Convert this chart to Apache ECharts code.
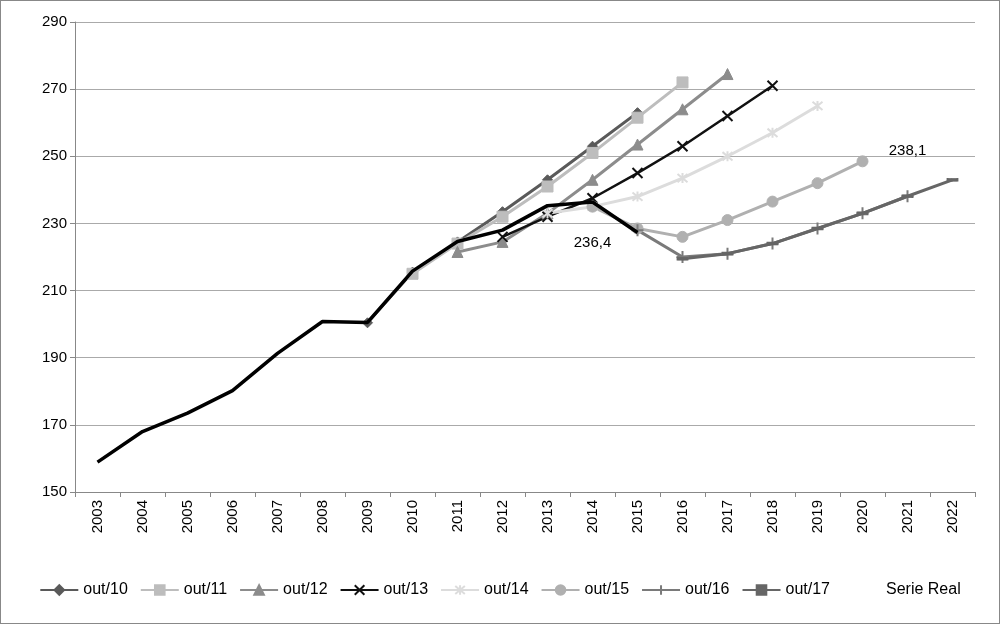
<!DOCTYPE html>
<html><head><meta charset="utf-8">
<script src="https://cdn.jsdelivr.net/npm/echarts@6/dist/echarts.min.js"></script>
<style>html,body{margin:0;padding:0;background:#fff}#c{width:998px;height:622px;border:1px solid #888}</style>
</head><body><div id="c"></div>
<script>
const years=['2003','2004','2005','2006','2007','2008','2009','2010','2011','2012','2013','2014','2015','2016','2017','2018','2019','2020','2021','2022'];
const N=null;
const out10=[N,N,N,N,N,N,200.4,215.5,224.5,233.5,243,253,263,N,N,N,N,N,N,N];
const out11=[N,N,N,N,N,N,N,215,224,232,241,251,261.5,272,N,N,N,N,N,N];
const out12=[N,N,N,N,N,N,N,N,221.5,224.5,233,243,253.5,264,274.5,N,N,N,N,N];
const out13=[N,N,N,N,N,N,N,N,N,226,232,237.5,245,253,262,271,N,N,N,N];
const out14=[N,N,N,N,N,N,N,N,N,N,233,235,238,243.5,250,257,265,N,N,N];
const out15=[N,N,N,N,N,N,N,N,N,N,N,235,228.5,226,231,236.5,242,248.5,N,N];
const out16=[N,N,N,N,N,N,N,N,N,N,N,N,228,220,221,224,228.5,233,238.1,N];
const out17=[N,N,N,N,N,N,N,N,N,N,N,N,N,219.5,221,224,228.5,233,238.1,243];
const real=[158.9,168,173.5,180.2,191.3,200.8,200.5,215.8,224.6,228,235.3,236.4,227.3,N,N,N,N,N,N,N];
const plus='path://M0,-10L0,10M-10,0L10,0';
function s(name,data,color,symbol,size,extra){return Object.assign({name,type:'line',data,symbol,symbolSize:size,showAllSymbol:true,
 lineStyle:{color,width:3},itemStyle:{color,borderColor:color,borderWidth:symbol.startsWith('path')?2:1},connectNulls:false},extra||{});}
const series=[
 s('out/10',out10,'#5a5a5a','diamond',10),
 s('out/11',out11,'#bdbdbd','rect',11),
 s('out/12',out12,'#8c8c8c','triangle',11),
 s('out/13',out13,'#111','path://M-10,-10L10,10M-10,10L10,-10',10,{lineStyle:{color:'#111',width:2.5}}),
 s('out/14',out14,'#dcdcdc','path://M-10,-10L10,10M-10,10L10,-10M0,-12L0,12',10),
 s('out/15',out15,'#b0b0b0','circle',11),
 s('out/16',out16,'#7a7a7a',plus,12),
 s('out/17',out17,'#666','rect',[10,3]),
 s('Serie Real',real,'#000','circle',0,{lineStyle:{color:'#000',width:3.5},z:5})
];
series[8].data=real.map((v,i)=>i===11?{value:v,label:{show:true,formatter:'236,4',position:'bottom',offset:[0,28],fontSize:15,color:'#000'}}:v);
series[6].data=out16.map((v,i)=>i===18?{value:v,label:{show:true,formatter:'238,1',position:'top',offset:[0,-26],fontSize:15,color:'#000'}}:v);
const chart=echarts.init(document.getElementById('c'));
chart.setOption({
 animation:false,
 textStyle:{fontFamily:'Liberation Sans, Arial',color:'#000'},
 grid:{left:74,right:24,top:21,bottom:131},
 xAxis:{type:'category',data:years,boundaryGap:true,axisLabel:{rotate:90,fontSize:15,color:'#000',interval:0},
  axisLine:{lineStyle:{color:'#888'}},axisTick:{show:true,interval:0,lineStyle:{color:'#888'}},
  splitLine:{show:false}},
 yAxis:{type:'value',min:150,max:290,interval:20,axisLabel:{fontSize:15,color:'#000'},
  axisLine:{show:true,lineStyle:{color:'#888'}},axisTick:{show:true,lineStyle:{color:'#888'}},splitLine:{lineStyle:{color:'#aaa'}}},
 legend:{bottom:20,left:'center',itemGap:12,itemWidth:38,itemHeight:12,textStyle:{fontSize:16,color:'#000'},
  data:['out/10','out/11','out/12','out/13','out/14','out/15','out/16','out/17',{name:'Serie Real',icon:'rect',itemStyle:{opacity:0}}]},
 series
});
</script></body></html>
